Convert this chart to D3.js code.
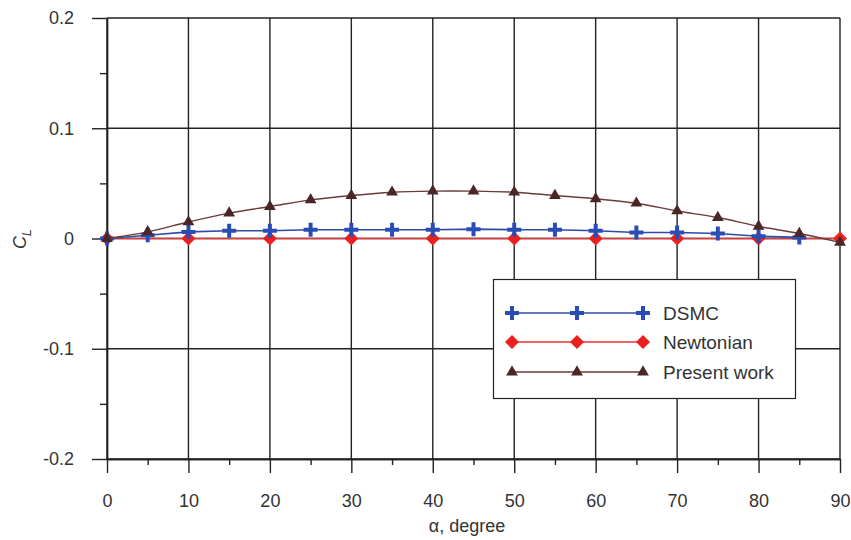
<!DOCTYPE html>
<html>
<head>
<meta charset="utf-8">
<script src="https://cdn.jsdelivr.net/npm/d3@7"></script>
<style>
  body { margin: 0; background: #fff; }
  text { font-family: "Liberation Sans", Arial, sans-serif; fill: #333; }
</style>
</head>
<body>
<svg id="chart" width="851" height="540"></svg>
<script>
// data
var alphaDSMC = [0, 5, 10, 15, 20, 25, 30, 35, 40, 45, 50, 55, 60, 65, 70, 75, 80, 85];
var clDSMC = [0, 0.003, 0.006, 0.007, 0.007, 0.008, 0.008, 0.008, 0.008, 0.0085, 0.008, 0.008, 0.007, 0.0055, 0.0055, 0.0045, 0.002, 0.001];

var alphaNewton = [0, 10, 20, 30, 40, 50, 60, 70, 80, 90];
var clNewton = [0, 0, 0, 0, 0, 0, 0, 0, 0, 0];

var alphaPresent = [0, 5, 10, 15, 20, 25, 30, 35, 40, 45, 50, 55, 60, 65, 70, 75, 80, 85, 90];
var clPresent = [0, 0.006, 0.015, 0.023, 0.029, 0.035, 0.039, 0.042, 0.043, 0.043, 0.042, 0.039, 0.036, 0.032, 0.025, 0.019, 0.011, 0.0045, -0.0035];

var xTicks = [0, 10, 20, 30, 40, 50, 60, 70, 80, 90];
var xMinor = [5, 15, 25, 35, 45, 55, 65, 75, 85];
var yTicks = [-0.2, -0.1, 0, 0.1, 0.2];
var yTickLabels = ["-0.2", "-0.1", "0", "0.1", "0.2"];
var yMinor = [-0.15, -0.05, 0.05, 0.15];

var legendNames = ["DSMC", "Newtonian", "Present work"];

var svg = d3.select("#chart");
var plotL = 107, plotR = 840, plotT = 18, plotB = 459;

var x = d3.scaleLinear().domain([0, 90]).range([plotL, plotR]);
var y = d3.scaleLinear().domain([-0.2, 0.2]).range([plotB, plotT]);

var ink = "#222";

// grid
var grid = svg.append("g");
grid.selectAll("line.v").data(xTicks).enter().append("line")
    .attr("x1", function(d){ return x(d); }).attr("x2", function(d){ return x(d); })
    .attr("y1", plotT).attr("y2", plotB)
    .attr("stroke", ink).attr("stroke-width", 1.4);
grid.selectAll("line.h").data(yTicks).enter().append("line")
    .attr("x1", plotL).attr("x2", plotR)
    .attr("y1", function(d){ return y(d); }).attr("y2", function(d){ return y(d); })
    .attr("stroke", ink).attr("stroke-width", 1.4);

// axes
svg.append("g")
    .attr("transform", "translate(0," + plotB + ")")
    .call(d3.axisBottom(x).tickValues(xTicks).tickSize(14).tickPadding(21).tickSizeOuter(0));
svg.append("g")
    .attr("transform", "translate(0," + plotB + ")")
    .call(d3.axisBottom(x).tickValues(xMinor).tickSize(6).tickFormat("").tickSizeOuter(0));

svg.append("g")
    .attr("transform", "translate(" + plotL + ",0)")
    .call(d3.axisLeft(y).tickValues(yTicks).tickSize(15).tickPadding(18).tickSizeOuter(0)
        .tickFormat(function(d, i){ return yTickLabels[i]; }));
svg.append("g")
    .attr("transform", "translate(" + plotL + ",0)")
    .call(d3.axisLeft(y).tickValues(yMinor).tickSize(7).tickFormat("").tickSizeOuter(0));

svg.selectAll(".domain").attr("stroke", ink).attr("stroke-width", 1.4);
svg.selectAll(".tick line").attr("stroke", ink).attr("stroke-width", 1.4);
svg.selectAll(".tick text")
    .style("font-family", "'Liberation Sans', Arial, sans-serif")
    .style("font-size", "18px").attr("fill", "#333");

// axis titles
svg.append("text")
    .attr("x", 467).attr("y", 532)
    .attr("text-anchor", "middle")
    .style("font-size", "18px")
    .text("\u03b1, degree");

var yl = svg.append("text")
    .attr("transform", "translate(26,239) rotate(-90)")
    .attr("text-anchor", "middle")
    .style("font-size", "18px");
yl.append("tspan").style("font-style", "italic").text("C");
yl.append("tspan").attr("dy", 5).style("font-size", "13px").style("font-style", "italic").text("L");

// series
function pts(xs, ys) { return xs.map(function(d, i){ return [d, ys[i]]; }); }

var straight = d3.line().x(function(d){ return x(d[0]); }).y(function(d){ return y(d[1]); });
var smooth = d3.line().x(function(d){ return x(d[0]); }).y(function(d){ return y(d[1]); })
    .curve(d3.curveCatmullRom.alpha(0.5));

var series = [
  { name: "DSMC", data: pts(alphaDSMC, clDSMC), line: straight, lineColor: "#2e4aa8", lineWidth: 1.6,
    sym: "plus", color: "#2a4db5" },
  { name: "Newtonian", data: pts(alphaNewton, clNewton), line: straight, lineColor: "#e53535", lineWidth: 1.6,
    sym: "diamond", color: "#ee1f1f" },
  { name: "Present work", data: pts(alphaPresent, clPresent), line: smooth, lineColor: "#6b3b3b", lineWidth: 1.4,
    sym: "triangle", color: "#4a2626" }
];

function drawMarker(g, s) {
  if (s.sym === "plus") {
    g.append("path").attr("d", "M-7,0H7M0,-7V7")
        .attr("stroke", s.color).attr("stroke-width", 4).attr("fill", "none");
  } else if (s.sym === "diamond") {
    g.append("path").attr("d", "M0,-7L7,0L0,7L-7,0Z").attr("fill", s.color);
  } else {
    g.append("path").attr("d", d3.symbol().type(d3.symbolTriangle).size(60)()).attr("fill", s.color);
  }
}

// draw Newtonian first, then DSMC, then present work
[1, 0, 2].forEach(function(k) {
  var s = series[k];
  var g = svg.append("g");
  g.append("path").datum(s.data).attr("d", s.line)
      .attr("fill", "none").attr("stroke", s.lineColor).attr("stroke-width", s.lineWidth);
  g.selectAll("g.m").data(s.data).enter().append("g")
      .attr("transform", function(d){ return "translate(" + x(d[0]) + "," + y(d[1]) + ")"; })
      .each(function(){ drawMarker(d3.select(this), s); });
});

// legend
var lg = svg.append("g");
lg.append("rect").attr("x", 493.5).attr("y", 279.5).attr("width", 302).attr("height", 119)
    .attr("fill", "#fff").attr("stroke", ink).attr("stroke-width", 1.2);
var rowY = [313, 342, 372];
var mx = [512, 577, 643];
series.forEach(function(s, i) {
  var row = lg.append("g").attr("transform", "translate(0," + rowY[i] + ")");
  row.append("line").attr("x1", mx[0]).attr("x2", mx[2]).attr("y1", 0).attr("y2", 0)
      .attr("stroke", s.lineColor).attr("stroke-width", s.lineWidth);
  mx.forEach(function(m) {
    drawMarker(row.append("g").attr("transform", "translate(" + m + ",0)"), s);
  });
  row.append("text").attr("x", 663).attr("y", 7)
      .style("font-size", "19px").text(legendNames[i]);
});
</script>
</body>
</html>
